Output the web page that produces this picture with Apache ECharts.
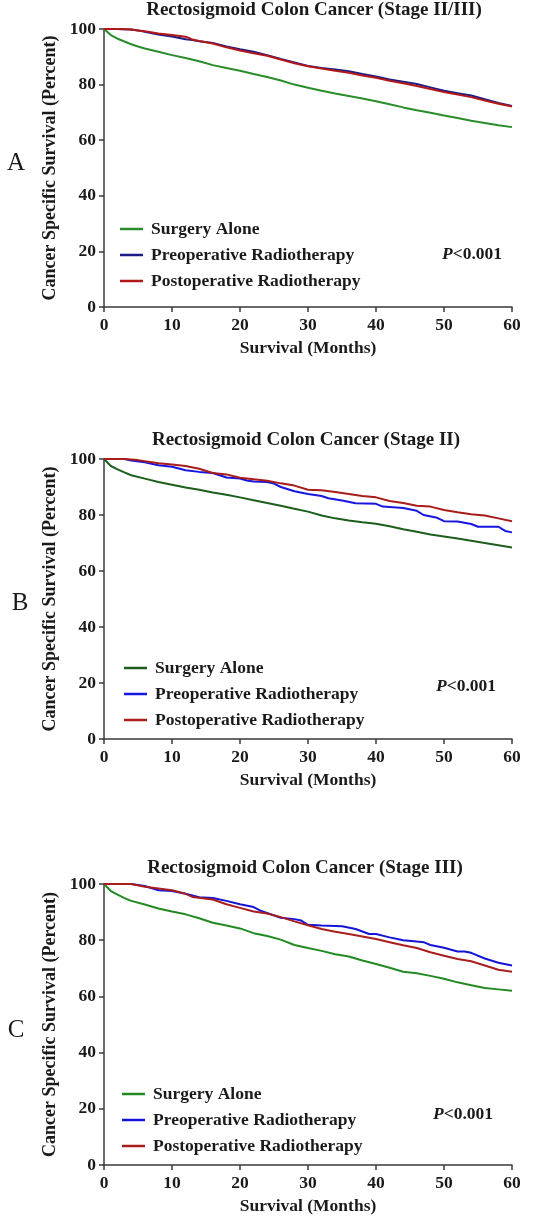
<!DOCTYPE html>
<html>
<head>
<meta charset="utf-8">
<script src="https://cdn.jsdelivr.net/npm/echarts@6/dist/echarts.min.js"></script>
<style>html,body{margin:0;padding:0;background:#fff}#c{width:536px;height:1224px}</style>
</head>
<body>
<div id="c"></div>
<script>
// ---------- DATA ----------
const seriesNames = ['Surgery Alone', 'Preoperative Radiotherapy', 'Postoperative Radiotherapy'];
const panelTitles = ['Rectosigmoid Colon Cancer (Stage II/III)', 'Rectosigmoid Colon Cancer (Stage II)', 'Rectosigmoid Colon Cancer (Stage III)'];
const panelLetters = ['A', 'B', 'C'];
const pValueText = 'P<0.001';
const xTicks = [0, 10, 20, 30, 40, 50, 60];
const yTicks = [0, 20, 40, 60, 80, 100];

// Panel A
const aSurgMonths = [0,1,2,3,4,5,6,8,10,12,14,16,18,20,22,24,26,28,30,32,34,36,38,40,42,44,46,48,50,52,54,56,58,60];
const aSurgVals   = [100,97.8,96.5,95.5,94.5,93.7,93,91.8,90.6,89.6,88.4,87,86,85,83.8,82.7,81.5,80,78.9,77.8,76.8,75.9,75,74,72.9,71.8,70.8,69.9,68.9,68,67,66.2,65.4,64.7];
const aPreMonths  = [0,2,4,5,6,8,10,12,13,14,16,18,20,22,24,26,28,30,32,34,36,38,40,42,44,46,48,50,52,54,56,58,60];
const aPreVals    = [100,100,99.8,99.5,99,98,97.3,96.3,96,95.6,95,93.7,92.7,91.8,90.6,89.2,88,86.7,86,85.4,84.8,83.8,82.9,81.8,81,80.2,79,77.8,76.9,76.1,74.7,73.4,72.3];
const aPostMonths = [0,2,4,5,6,8,10,12,12.5,13,14,16,18,20,22,24,26,28,30,32,34,36,38,40,42,44,46,48,50,52,54,56,58,60];
const aPostVals   = [100,100,99.8,99.5,99.2,98.4,97.8,97.2,96.8,96.2,95.7,94.8,93.4,92.3,91.3,90.4,89,87.7,86.6,85.8,85,84.3,83.3,82.5,81.4,80.5,79.5,78.4,77.3,76.4,75.5,74.3,73.1,72.1];

// Panel B
const bSurgMonths = [0,1,2,3,4,6,8,10,12,14,16,18,20,22,24,26,28,30,32,34,36,38,40,42,44,46,48,50,52,54,56,58,60];
const bSurgVals   = [100,97.5,96.3,95.2,94.2,93,91.8,90.8,89.8,89,88,87.2,86.3,85.3,84.3,83.3,82.2,81.2,79.8,78.8,78,77.4,76.9,76,74.9,74,73,72.3,71.6,70.8,70,69.2,68.4];
const bPreMonths  = [0,3,4,6,8,10,12,14,16,18,20,21,22,24,25,26,28,30,32,33,35,37,40,41,44,46,47,49,50,52,54,55,58,59,60];
const bPreVals    = [100,100,99.5,98.8,97.8,97.2,96,95.4,95,93.4,93,92.3,92,91.8,91.2,90,88.5,87.5,86.8,86,85.2,84.2,84,83,82.5,81.5,80,79,77.8,77.7,76.8,75.8,75.8,74.3,73.8];
const bPostMonths = [0,3,5,8,10,12,14,16,18,20,22,24,26,28,30,32,34,36,38,40,42,44,46,48,50,52,54,56,58,60];
const bPostVals   = [100,100,99.6,98.5,98,97.5,96.5,95,94.5,93.3,92.8,92.2,91.3,90.5,89,88.8,88.2,87.5,86.8,86.3,85,84.3,83.3,83,81.8,81,80.3,79.8,78.8,77.8];

// Panel C
const cSurgMonths = [0,1,2,3,4,6,8,10,12,14,16,18,20,22,24,26,28,30,32,34,36,38,40,42,44,46,48,50,52,54,56,58,60];
const cSurgVals   = [100,97.5,96.2,95,94,92.7,91.3,90.2,89.2,87.8,86.2,85.2,84.2,82.5,81.5,80.2,78.3,77.2,76.2,75,74.2,72.8,71.5,70.2,68.8,68.2,67.3,66.3,65,64,63,62.5,62];
const cPreMonths  = [0,4,6,8,10,12,14,16,18,20,22,23,26,28,29,30,32,35,37,39,40,42,44,46,47,48,50,52,53,54,56,58,60];
const cPreVals    = [100,100,99.3,97.8,97.5,96.5,95.3,95,94,92.8,91.8,90.5,88,87.5,87,85.5,85.2,85,84,82.2,82.2,81,80,79.5,79.3,78.3,77.3,76,76,75.5,73.5,72,71];
const cPostMonths = [0,4,6,8,10,12,13,16,18,20,22,24,26,28,30,32,34,36,38,40,42,44,46,48,50,52,54,56,58,60];
const cPostVals   = [100,100,99,98.4,97.8,96.5,95.4,94.5,92.8,91.5,90.2,89.5,88.2,86.7,85.3,84,83,82.2,81.3,80.4,79.3,78.2,77.2,75.7,74.5,73.3,72.5,71,69.5,68.8];

// ---------- LAYOUT / STYLE ----------
const FONT = '"Liberation Serif", "Times New Roman", serif';
const panelColors = [
  ['#2a8c2a', '#1c1c84', '#b2181a'],
  ['#1d5e1d', '#1616e0', '#a81c1c'],
  ['#238a23', '#1414d8', '#a81e1e']
];
const grids = [
  {left: 104, top: 29, width: 408, height: 278},
  {left: 104, top: 459, width: 408, height: 280},
  {left: 104, top: 884, width: 408, height: 281}
];
const legendTops = [215, 654, 1080];
const legendLefts = [115, 119, 117];
const titleYs = [10, 440, 868];
const titleXs = [314, 306, 305];
const letterPos = [[16, 163], [20, 603], [16, 1030]];
const pPos = [[472, 254], [466, 686], [463, 1114]];

const panelData = [
  [[aSurgMonths, aSurgVals], [aPreMonths, aPreVals], [aPostMonths, aPostVals]],
  [[bSurgMonths, bSurgVals], [bPreMonths, bPreVals], [bPostMonths, bPostVals]],
  [[cSurgMonths, cSurgVals], [cPreMonths, cPreVals], [cPostMonths, cPostVals]]
];

const axisColor = '#3a3a3a';
const xAxes = [], yAxes = [], series = [], legends = [], graphics = [];
grids.forEach((g, i) => {
  xAxes.push({
    type: 'value', gridIndex: i, min: xTicks[0], max: xTicks[xTicks.length - 1], interval: 10,
    name: 'Survival (Months)', nameLocation: 'middle', nameGap: 32,
    nameTextStyle: {fontFamily: FONT, fontWeight: 'bold', fontSize: 17.5, color: '#1a1a1a'},
    axisLine: {show: true, lineStyle: {color: axisColor, width: 1.5}},
    axisTick: {show: true, length: 5, lineStyle: {color: axisColor, width: 1.5}},
    axisLabel: {fontFamily: FONT, fontWeight: 'bold', fontSize: 17.5, color: '#1a1a1a', margin: 9},
    splitLine: {show: false}
  });
  yAxes.push({
    type: 'value', gridIndex: i, min: yTicks[0], max: yTicks[yTicks.length - 1], interval: 20,
    name: 'Cancer Specific Survival (Percent)', nameLocation: 'middle', nameGap: 42, nameRotate: 90,
    nameTextStyle: {fontFamily: FONT, fontWeight: 'bold', fontSize: 18, color: '#1a1a1a'},
    axisLine: {show: true, lineStyle: {color: axisColor, width: 1.5}},
    axisTick: {show: true, length: 5, lineStyle: {color: axisColor, width: 1.5}},
    axisLabel: {fontFamily: FONT, fontWeight: 'bold', fontSize: 17.5, color: '#1a1a1a', margin: 8},
    splitLine: {show: false}
  });
  panelData[i].forEach((pair, k) => {
    const [mx, vy] = pair;
    series.push({
      type: 'line', name: seriesNames[k], xAxisIndex: i, yAxisIndex: i,
      data: mx.map((m, j) => [m, vy[j]]),
      symbol: 'none', smooth: false,
      lineStyle: {color: panelColors[i][k], width: 2},
      itemStyle: {color: panelColors[i][k]},
      z: 3 + (k === 2 ? 1 : 0)
    });
  });
  legends.push({
    orient: 'vertical', left: legendLefts[i], top: legendTops[i],
    icon: 'rect', itemWidth: 23, itemHeight: 2.5, itemGap: 8,
    selectedMode: false,
    textStyle: {fontFamily: FONT, fontWeight: 'bold', fontSize: 17.5, color: '#1a1a1a', lineHeight: 17, padding: [0, 0, 0, 3]},
    data: seriesNames.map((n, k) => ({name: n, itemStyle: {color: panelColors[i][k]}}))
  });
  graphics.push({
    type: 'text', x: titleXs[i], y: titleYs[i], silent: true,
    style: {text: panelTitles[i], font: 'bold 19px ' + FONT, fill: '#1a1a1a', align: 'center', verticalAlign: 'middle'}
  });
  graphics.push({
    type: 'text', x: letterPos[i][0], y: letterPos[i][1], silent: true,
    style: {text: panelLetters[i], font: '25px ' + FONT, fill: '#1a1a1a', align: 'center', verticalAlign: 'middle'}
  });
  graphics.push({
    type: 'text', x: pPos[i][0], y: pPos[i][1], silent: true,
    style: {
      text: '{i|P}{n|' + pValueText.slice(1) + '}',
      align: 'center', verticalAlign: 'middle',
      rich: {
        i: {fontFamily: FONT, fontWeight: 'bold', fontStyle: 'italic', fontSize: 17.5, fill: '#1a1a1a'},
        n: {fontFamily: FONT, fontWeight: 'bold', fontSize: 17.5, fill: '#1a1a1a'}
      }
    }
  });
});

const chart = echarts.init(document.getElementById('c'), null, {renderer: 'canvas'});
chart.setOption({
  animation: false,
  backgroundColor: '#ffffff',
  grid: grids,
  xAxis: xAxes,
  yAxis: yAxes,
  legend: legends,
  series: series,
  graphic: graphics
});
</script>
</body>
</html>
